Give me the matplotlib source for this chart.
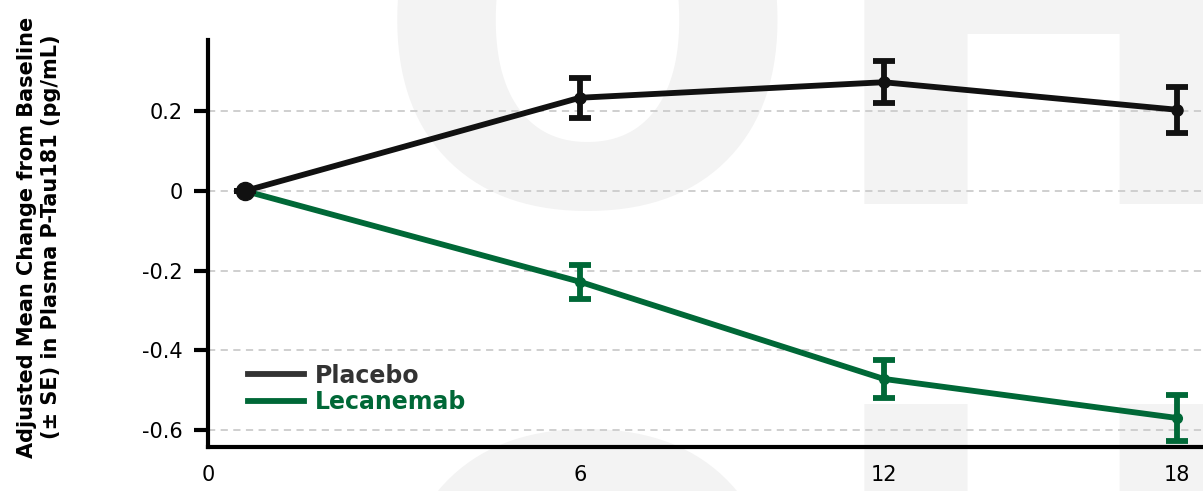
import numpy as np
import matplotlib
matplotlib.use('Agg')
import matplotlib.pyplot as plt
from matplotlib.lines import Line2D

plt.rcParams['font.family'] = ['DejaVu Sans']

# Adjusted mean change from baseline in plasma p-tau181 (pg/mL)
months = [0, 6, 12, 18]
placebo_mean = [0.0, 0.234, 0.273, 0.204]
placebo_se = [0.0, 0.050, 0.053, 0.058]
lecanemab_mean = [0.0, -0.228, -0.472, -0.570]
lecanemab_se = [0.0, 0.043, 0.048, 0.058]
tick_labels = ['0', '6', '12', '18']

# visits are not drawn evenly spaced: piecewise month -> position mapping
knot_months = np.array([-6.0, -0.74, 0, 6, 12, 18, 24])
knot_pos = np.array([-300.0, 0, 37, 372, 676, 969, 1269])


def forward(x):
    return np.interp(x, knot_months, knot_pos)


def inverse(p):
    return np.interp(p, knot_pos, knot_months)


GREEN = '#006837'
BLACK = '#111111'
MARK = '#f3f3f3'

fig = plt.figure(figsize=(12.03, 4.91), dpi=100)

# faint watermark behind the plot (two rows)
for y in [0.585, -0.64]:
    fig.text(0.309, y, 'O', fontsize=365, fontweight='bold', color=MARK,
             ha='left', va='baseline', zorder=-10)
    fig.text(0.676, y, 'H', fontsize=395, fontweight='bold', color=MARK,
             ha='left', va='baseline', zorder=-10)

ax = fig.add_axes([0.1729, 0.0896, 0.8271, 0.8289])
ax.patch.set_visible(False)
ax.set_xscale('function', functions=(forward, inverse))

ax.errorbar(months, lecanemab_mean, yerr=lecanemab_se, color=GREEN, lw=4.2,
            elinewidth=4.2, capsize=8, capthick=4.2, marker='o', ms=7, zorder=3)
ax.errorbar(months, placebo_mean, yerr=placebo_se, color=BLACK, lw=4.2,
            elinewidth=4.2, capsize=8, capthick=4.2, marker='o', ms=8, zorder=4)
ax.plot(months[0], placebo_mean[0], 'o', color=BLACK, ms=13, zorder=5)

ax.set_xlim(-0.74, 18.53)
ax.set_ylim(-0.643, 0.379)
ax.set_yticks([0.2, 0, -0.2, -0.4, -0.6], labels=['0.2', '0', '-0.2', '-0.4', '-0.6'])
ax.set_xticks([-0.74, 6, 12, 18], labels=tick_labels)
ax.yaxis.grid(True, ls=(0, (4, 3)), color='#cccccc', lw=1.3)
ax.set_axisbelow(True)

for side in ['top', 'right']:
    ax.spines[side].set_visible(False)
for side in ['left', 'bottom']:
    ax.spines[side].set_linewidth(3)
    ax.spines[side].set_color('black')
ax.tick_params(axis='y', length=10, width=3, labelsize=15, pad=8)
ax.tick_params(axis='x', length=0, labelsize=15, pad=13)

ax.set_ylabel('Adjusted Mean Change from Baseline\n(± SE) in Plasma P-Tau181 (pg/mL)',
              fontsize=15, fontweight='bold', linespacing=1.25)
ax.yaxis.label.set_va('center')
ax.yaxis.set_label_coords(-0.170, 0.516)

handles = [Line2D([], [], color='#333333', lw=4.2),
           Line2D([], [], color=GREEN, lw=4.2)]
leg = ax.legend(handles, ['Placebo', 'Lecanemab'], loc='upper left',
                bbox_to_anchor=(0.040, 0.205), frameon=False, handlelength=2.4,
                handletextpad=0.42, labelspacing=0.1, borderpad=0, borderaxespad=0,
                prop={'weight': 'bold', 'size': 17})
for txt, c in zip(leg.get_texts(), ['#333333', GREEN]):
    txt.set_color(c)

fig.savefig('out.png', dpi=100)
